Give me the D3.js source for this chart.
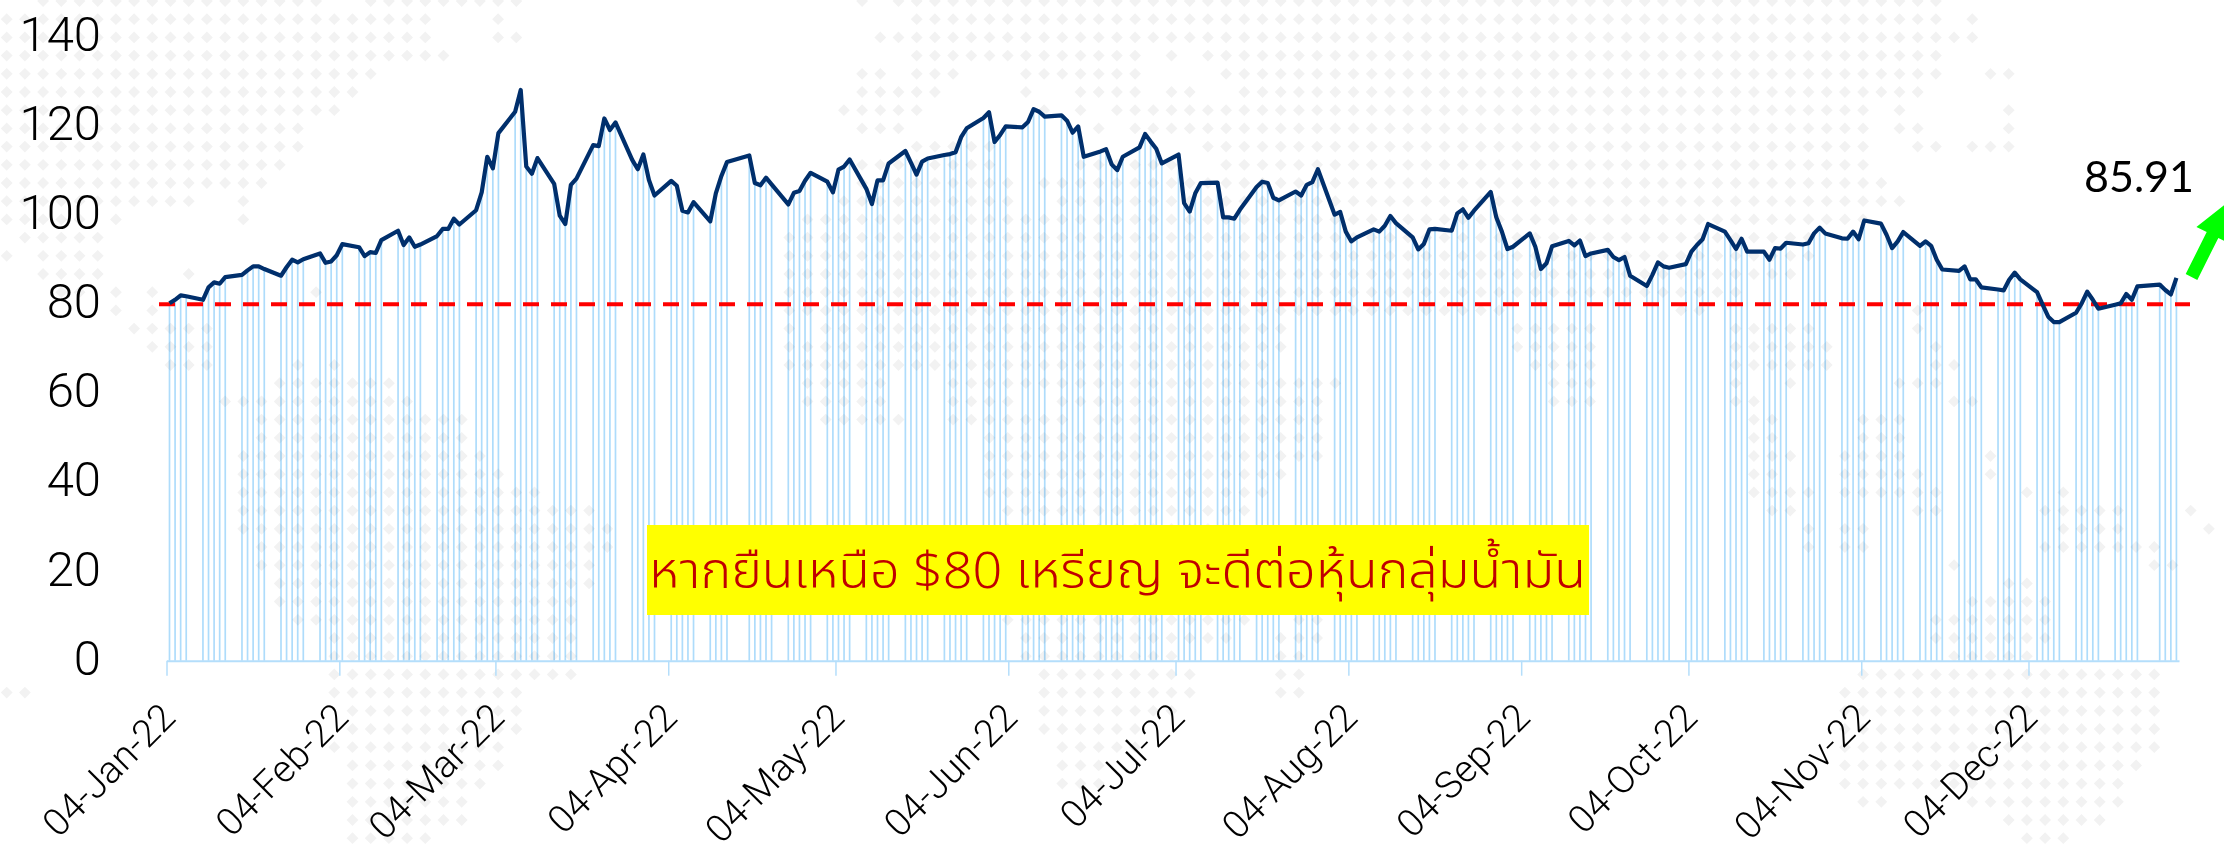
<!DOCTYPE html>
<html>
<head>
<meta charset="utf-8">
<script src="https://cdn.jsdelivr.net/npm/d3@7"></script>
<style>
html,body{margin:0;padding:0;background:#fff;overflow:hidden}
svg{display:block}
</style>
</head>
<body>
<svg id="chart" width="2224" height="851"></svg>
<script>
// ---- data ----
const tradingDays = [
  [4,5,6,7,10,11,12,13,14,17,18,19,20,21,24,25,26,27,28,31],
  [1,2,3,4,7,8,9,10,11,14,15,16,17,18,21,22,23,24,25,28],
  [1,2,3,4,7,8,9,10,11,14,15,16,17,18,21,22,23,24,25,28,29,30,31],
  [1,4,5,6,7,8,11,12,13,14,18,19,20,21,22,25,26,27,28,29],
  [2,3,4,5,6,9,10,11,12,13,16,17,18,19,20,23,24,25,26,27,30,31],
  [1,2,3,6,7,8,9,10,13,14,15,16,17,20,21,22,23,24,27,28,29,30],
  [1,4,5,6,7,8,11,12,13,14,15,18,19,20,21,22,25,26,27,28,29],
  [1,2,3,4,5,8,9,10,11,12,15,16,17,18,19,22,23,24,25,26,29,30,31],
  [1,2,5,6,7,8,9,12,13,14,15,16,19,20,21,22,23,26,27,28,29,30],
  [3,4,5,6,7,10,11,12,13,14,17,18,19,20,21,24,25,26,27,28,31],
  [1,2,3,4,7,8,9,10,11,14,15,16,17,18,21,22,23,24,25,28,29,30],
  [1,2,5,6,7,8,9,12,13,14,15,16,19,20,21,22,23,27,28,29,30]
];
const closeQ1 = [80.2,81.0,82.0,81.8,81.0,83.8,84.9,84.6,86.1,86.6,87.6,88.5,88.5,87.9,86.4,88.3,90.0,89.4,90.1,91.4,
  89.3,89.6,91.0,93.5,92.8,90.8,91.7,91.5,94.4,96.5,93.3,95.0,92.9,93.4,95.3,96.9,96.9,99.2,97.9,101.1,
  105.1,113.1,110.5,118.4,123.2,128.1,110.9,109.3,112.8,107.0,99.9,98.0,106.8,108.2,115.7,115.5,121.7,119.1,120.8,112.4,110.3,113.6,107.9];
const closeQ2 = [104.4,107.7,106.6,101.0,100.6,102.9,98.6,104.9,108.8,111.9,113.4,107.2,106.7,108.4,106.9,102.4,105.0,105.4,107.7,109.5,
  107.5,105.1,110.2,110.9,112.5,105.9,102.5,107.8,107.8,111.6,114.4,111.8,109.1,112.0,112.7,113.5,113.7,114.1,117.5,119.5,121.8,123.1,
  116.4,118.0,119.9,119.7,120.9,123.8,123.2,122.1,122.4,121.2,118.5,119.9,113.1,114.3,114.8,111.4,110.1,113.1,115.2,118.2,116.5,114.9];
const closeQ3 = [111.6,113.6,102.7,100.8,104.9,107.2,107.3,99.5,99.5,99.2,101.2,106.3,107.5,107.2,103.9,103.3,105.3,104.4,106.8,107.4,110.3,
  100.1,100.7,96.3,94.1,95.0,96.8,96.3,97.6,99.8,98.2,95.0,92.3,93.5,96.8,96.9,96.5,100.4,101.3,99.4,101.0,105.2,99.5,96.3,
  92.4,92.9,95.9,92.9,87.9,89.2,93.0,94.2,93.2,94.3,90.8,91.4,92.2,90.6,89.9,90.6,86.4,84.1,86.6,89.4,88.5,88.2];
const closeQ4 = [89.0,91.8,93.3,94.6,98.0,96.3,94.4,92.4,94.7,91.8,91.8,90.0,92.6,92.5,93.8,93.4,93.7,95.9,97.2,95.9,94.8,
  94.7,96.3,94.6,98.8,98.1,95.6,92.6,94.1,96.2,93.1,94.1,93.1,90.0,87.8,87.5,88.5,85.6,85.6,83.8,83.3,83.1,85.5,
  87.1,85.6,82.7,79.9,77.2,76.0,76.0,78.1,80.2,82.8,81.0,79.0,79.9,80.2,82.3,81.0,84.0,84.4,83.2,82.2,85.91];
const yTicks = [0,20,40,60,80,100,120,140];
const xTickDates = ["2022-01-04","2022-02-04","2022-03-04","2022-04-04","2022-05-04","2022-06-04","2022-07-04","2022-08-04","2022-09-04","2022-10-04","2022-11-04","2022-12-04"];
const threshold = 80;
const lastLabel = "85.91";
const noteText = "หากยืนเหนือ $80 เหรียญ จะดีต่อหุ้นกลุ่มน้ำมัน";
// decorative dotted world map: per grid row, inclusive column runs
const mapRows = [
 [[2,17],[20,28],[47,47],[49,106]],
 [[0,23],[27,27],[50,106],[108,108]],
 [[0,23],[27,28],[48,108]],
 [[0,24],[50,62],[64,64],[66,106]],
 [[0,20],[47,48],[50,52],[56,62],[67,106],[109,110]],
 [[0,19],[47,51],[56,56],[59,62],[64,65],[68,105]],
 [[0,18],[46,50],[57,57],[59,59],[61,102],[104,104],[110,110]],
 [[0,16],[47,49],[60,60],[62,102],[104,105],[110,110]],
 [[0,16],[50,54],[66,102],[105,106],[108,110]],
 [[0,15],[47,54],[59,64],[67,102]],
 [[0,14],[47,55],[57,103]],
 [[0,10],[13,13],[46,55],[58,104]],
 [[0,4],[6,6],[13,13],[44,102]],
 [[1,5],[43,99]],
 [[0,0],[2,5],[43,99]],
 [[2,5],[10,10],[43,98]],
 [[3,4],[6,6],[8,8],[17,17],[43,95]],
 [[6,6],[8,8],[43,82],[92,93],[105,105]],
 [[7,11],[43,43],[45,70],[83,87],[95,99],[105,105]],
 [[8,11],[43,70],[83,87],[95,100],[106,106]],
 [[9,11],[16,16],[18,18],[43,69],[84,87],[95,100],[106,107]],
 [[15,21],[44,48],[52,73],[85,87],[95,95],[98,98],[104,106]],
 [[12,22],[44,48],[52,55],[58,72],[85,87],[95,96],[107,108]],
 [[14,25],[45,49],[52,58],[60,72],[96,97],[102,104]],
 [[14,25],[54,72],[96,97],[102,104]],
 [[13,26],[54,72],[96,98],[101,104],[109,109]],
 [[13,27],[54,70],[96,97],[101,105],[109,109]],
 [[13,29],[54,69],[96,99],[101,106],[111,111],[113,113]],
 [[13,32],[55,68],[97,98],[105,106],[112,116],[120,120]],
 [[13,33],[55,67],[99,99],[101,102],[113,116],[121,121]],
 [[14,33],[55,67],[99,99],[101,102],[112,118]],
 [[14,32],[55,65],[107,107],[118,119]],
 [[15,32],[55,66],[110,111]],
 [[15,31],[55,64],[108,112]],
 [[16,31],[55,68],[71,72],[106,112]],
 [[18,31],[56,67],[70,72],[106,112]],
 [[18,31],[56,64],[70,71],[107,111]],
 [[18,31],[57,65],[70,71],[102,118]],
 [[0,1],[18,28],[57,65],[70,71],[101,118]],
 [[19,28],[57,64],[101,118]],
 [[19,28],[57,62],[101,118]],
 [[18,27],[58,62],[101,118]],
 [[19,27],[58,60],[101,117]],
 [[19,26],[58,60],[101,116]],
 [[19,25],[102,103],[108,116]],
 [[19,25],[110,115]],
 [[19,23],[111,113]]
];

// ---- build ----
const dates = tradingDays.flatMap((days,m) => days.map(d => new Date(Date.UTC(2022,m,d))));
const parse = d3.utcParse("%Y-%m-%d");
const closes = [...closeQ1,...closeQ2,...closeQ3,...closeQ4];
const rows = dates.map((date,i)=>({date,value:closes[i]}));

const svg = d3.select("#chart");
const x = d3.scaleUtc().domain([parse("2022-01-04"),parse("2022-12-31")]).range([166.5,2179]);
const y = d3.scaleLinear().domain([0,140]).range([660.7,36.9]);
const barShift = 3;
const bx = d => x(d)+barShift;

// dotted map
const step = 18.2;
const sq = d3.symbol(d3.symbolSquare,70)();
svg.append("g").attr("fill","#f2f2f2")
  .selectAll("path")
  .data(mapRows.flatMap((runs,r)=>runs.flatMap(([a,b])=>d3.range(a,b+1).map(c=>({r,c})))))
  .join("path")
  .attr("d",sq)
  .attr("transform",d=>`translate(${6.7+d.c*step},${1+d.r*step}) rotate(45)`);

// bars
svg.append("g").style("mix-blend-mode","multiply")
  .attr("stroke","#aedcfb").attr("stroke-width",1.7)
  .selectAll("line").data(rows).join("line")
  .attr("x1",d=>bx(d.date)).attr("x2",d=>bx(d.date))
  .attr("y1",y(0)).attr("y2",d=>y(d.value));

// axes
const axisFont = "Roboto,'Liberation Sans',sans-serif";
const xAxis = d3.axisBottom(x).tickValues(xTickDates.map(parse))
  .tickFormat(d3.utcFormat("%d-%b-%y")).tickSize(15).tickSizeOuter(0);
const gx = svg.append("g").attr("transform",`translate(0,${y(0)})`).call(xAxis);
gx.select(".domain").attr("stroke","#b4defb").attr("stroke-width",2);
gx.selectAll(".tick line").attr("stroke","#b4defb").attr("stroke-width",1.5);
gx.selectAll(".tick text")
  .attr("y",0).attr("dy",0).attr("x",0)
  .attr("text-anchor","end")
  .attr("transform","translate(10.5,59) rotate(-45)")
  .style("font-family",axisFont).style("font-size","38px").style("font-weight",300)
  .attr("fill","#000");

const yAxis = d3.axisLeft(y).tickValues(yTicks).tickSize(0).tickPadding(0);
const gy = svg.append("g").attr("transform","translate(101,0)").call(yAxis);
gy.select(".domain").remove();
gy.selectAll(".tick text")
  .attr("dy",0).attr("y",13.5)
  .style("font-family",axisFont).style("font-size","49px").style("font-weight",300)
  .attr("fill","#000");

// threshold
svg.append("line")
  .attr("x1",159).attr("x2",2190).attr("y1",y(threshold)).attr("y2",y(threshold))
  .attr("stroke","#ff0000").attr("stroke-width",4).attr("stroke-dasharray","16 12");

// series line
svg.append("path").datum(rows)
  .attr("fill","none").attr("stroke","#002f6c").attr("stroke-width",4.2)
  .attr("stroke-linejoin","round")
  .attr("d",d3.line().x(d=>bx(d.date)).y(d=>y(d.value)));

// callout
const boxG = svg.append("g");
boxG.append("rect").attr("x",647).attr("y",525).attr("width",942).attr("height",90).attr("fill","#ffff00");
boxG.append("text").attr("x",649).attr("y",588)
  .attr("textLength",937).attr("lengthAdjust","spacingAndGlyphs")
  .style("font-family","'Noto Sans Thai','Noto Sans','Liberation Sans',sans-serif").style("font-size","50px").style("font-weight",300)
  .attr("fill","#c00000").text(noteText);

// last value label and arrow
svg.append("text").attr("x",2084).attr("y",192)
  .style("font-family","Lato,sans-serif").style("font-size","43px").attr("fill","#000").text(lastLabel);
const tail=[2191.5,277], u=[0.447,-0.894], n=[0.894,0.447];
const p=(a,b)=>[tail[0]+u[0]*a+n[0]*b, tail[1]+u[1]*a+n[1]*b];
svg.append("path").attr("fill","#00ff00")
  .attr("d",d3.line()([p(0,-6.5),p(47,-6.5),p(47,-18),p(85,0),p(47,18),p(47,6.5),p(0,6.5)])+"Z");
</script>
</body>
</html>
